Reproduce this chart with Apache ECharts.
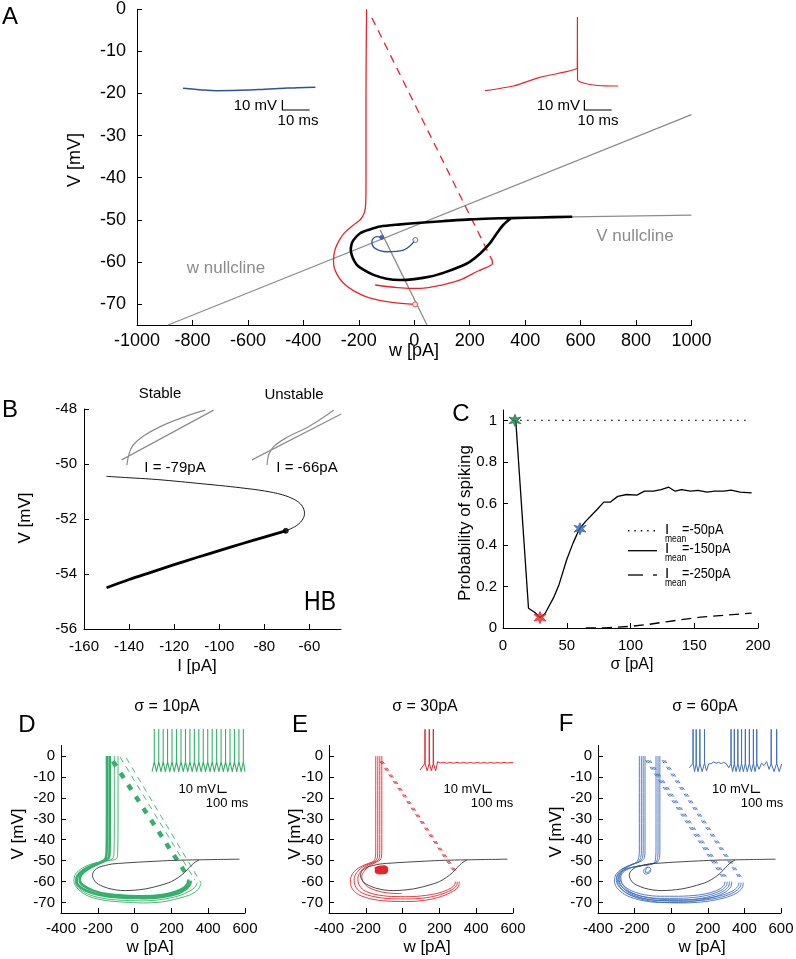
<!DOCTYPE html>
<html><head><meta charset="utf-8">
<script src="https://cdn.jsdelivr.net/npm/echarts@6/dist/echarts.min.js"></script>
<style>html,body{margin:0;padding:0;background:#fff}#c{width:796px;height:959px}</style>
</head><body><div id="c"></div>
<script>
const FONTF = '"Liberation Sans", Arial, Helvetica, sans-serif';

// ================= Panel A (phase plane, w [pA] vs V [mV]) =================
const aYTicks = [-70,-60,-50,-40,-30,-20,-10,0];
const aBlackCycle = [[350,-49.6],[320,-51.3],[298,-53.2],[270,-55.8],[238,-58],[200,-60],[166,-61.1],[110,-62.5],[58,-63.5],[0,-64.1],[-51,-64.3],[-100,-64],[-147,-63.1],[-185,-61.8],[-207,-60.7],[-222,-59],[-229,-57.2],[-226,-55.8],[-219,-54.8],[-195,-53.2],[-160,-52.3],[-123,-51.6],[-50,-51.1],[22,-50.7],[100,-50.35],[202,-49.9],[280,-49.7],[350,-49.6],[450,-49.45],[570,-49.3]];
const aVNullcline = [[350,-49.6],[570,-49.3],[1000,-48.9]];
const aWNullcline = [[-888,-75],[1000,-25]];
const aSeparatrix = [[-123,-52.4],[46,-75]];
const aRedPath = [[3,-70.1],[-80,-69.6],[-159,-68.6],[-215,-67],[-255,-65.1],[-280,-62.8],[-291,-60.3],[-290,-58.5],[-283,-56.6],[-268,-54.6],[-250,-53],[-220,-51.3],[-195,-50],[-180,-48.3],[-175,-46],[-174,-40],[-174,-20],[-172,0]];
const aRedReset = [[-153,-2],[280,-59.5]];
const aRedAfter = [[280,-59.3],[282,-60.4],[240,-61.9],[226,-62.3],[166,-64.3],[100,-65.5],[22,-66.3],[-60,-66.1],[-141,-65.5]];
const aRedStart = [[3,-70.1]];
const aBluePath = [[4,-54.8],[-39,-57.2],[-99,-57.6],[-141,-56.8],[-153,-55.2],[-135,-54],[-117,-54.2]];
const aBlueStart = [[4,-54.8]];
const aBlueEnd = [[-117,-54.2]];
// A insets (time [ms], V [mV])
const aBlueInsetT = [0, 6, 12.4, 18, 24.7, 30, 36.9, 42, 48.5];
const aBlueInsetV = [-71, -72.4, -73.4, -73.3, -72.7, -71.9, -71, -70.4, -70];
const aRedInsetT = [0, 10.4, 20.1, 29.9, 33.0, 33.8, 33.85, 33.9, 36.5, 39.7, 44, 48.8];
const aRedInsetV = [-73.4, -68.7, -60, -54.4, -52, -50.7, 0, -62.7, -66, -67.7, -68.5, -68.7];
const aScaleBar = [[36.4,-82.7],[36.4,-92.7],[46.4,-92.7]];

// ================= Panel B (bifurcation) =================
const bXTicks = [-160,-140,-120,-100,-80,-60];
const bUpperI = [-150,-140,-130,-120,-110,-100,-90,-80,-72,-67,-64,-62.5,-62.2,-62.6,-64,-66.5,-70.5];
const bUpperV = [-50.45,-50.5,-50.55,-50.62,-50.7,-50.78,-50.87,-50.98,-51.12,-51.28,-51.45,-51.65,-51.8,-51.95,-52.12,-52.28,-52.43];
const bLowerI = [-70.5,-80,-90,-100,-110,-120,-130,-140,-150];
const bLowerV = [-52.43,-52.66,-52.9,-53.15,-53.4,-53.66,-53.93,-54.2,-54.5];
const bHopf = [[-70.5,-52.43]];
const bStableLine = [[-143.3,-49.85],[-102.5,-48.04]];
const bStableCurve = [[-141,-50.04],[-139.9,-49.6],[-138.1,-49.3],[-133.6,-48.98],[-126.2,-48.64],[-117.3,-48.34],[-110,-48.13],[-106.2,-48.04]];
const bUnstableLine = [[-85.5,-49.85],[-45.9,-48.18]];
const bUnstableCurve = [[-78.8,-50.04],[-78.1,-49.67],[-75.9,-49.37],[-69.9,-49.03],[-61,-48.67],[-54.4,-48.34],[-49.2,-48.04]];

// ================= Panel C (probability of spiking) =================
const cYTicks = [0,0.2,0.4,0.6,0.8,1];
const cDotSigma = [8,192];
const cDotProb = [1,1];
const cSigma = [10,20,25,29,33,40,44,50,55,60,65,70,74,79,84,90,97,105,111,118,124,130,135,140,147,153,160,166,173,179,186,195];
const cProb = [1.0,0.095,0.075,0.05,0.07,0.15,0.21,0.33,0.41,0.478,0.515,0.547,0.572,0.606,0.606,0.634,0.643,0.64,0.659,0.659,0.667,0.678,0.659,0.667,0.659,0.663,0.654,0.659,0.659,0.664,0.654,0.651];
const cDashSigma = [65,80,100,115,128,140,155,170,185,195];
const cDashProb = [0,0.001,0.008,0.018,0.03,0.04,0.052,0.06,0.067,0.072];
const cStarGreen = [[9.4,1.0]];
const cStarRed = [[29,0.05]];
const cStarBlue = [[60.4,0.478]];

// ================= Panels D, E, F (noisy trajectories) =================
const dYTicks = [-70,-60,-50,-40,-30,-20,-10,0];
const dTrajThick = [
  [[305,-59.5],[300,-61.5],[280,-63.5],[230,-65.8],[150,-67.3],[50,-67.9],[-50,-67.7],[-150,-67],[-230,-65.5],[-290,-63],[-315,-60],[-310,-57.5],[-285,-55],[-235,-52.5],[-180,-50.6],[-158,-49],[-152,-46],[-150,-30],[-150,0]],
  [[292,-59],[288,-61],[268,-63],[220,-65],[150,-66.4],[50,-67],[-50,-66.8],[-150,-66],[-225,-64.3],[-280,-61.8],[-298,-59.3],[-292,-57],[-265,-54.7],[-220,-52.3],[-170,-50.4],[-142,-48.8],[-136,-46],[-135,-30],[-135,0]]
];
const dTrajThin = [
  [[340,-60.5],[330,-62.5],[300,-64.5],[240,-66.8],[150,-68.5],[50,-69.2],[-50,-69],[-150,-68.3],[-240,-66.5],[-300,-63.5],[-322,-60.2],[-315,-57],[-280,-54.2],[-220,-51.6],[-150,-50],[-118,-48.8],[-112,-46],[-110,-30],[-110,0]],
  [[360,-61],[348,-63.5],[310,-66],[240,-68],[150,-69.7],[50,-70.2],[-60,-69.8],[-160,-69],[-250,-67],[-305,-63.8],[-330,-60],[-322,-56.5],[-285,-53.6],[-220,-51.2],[-140,-50],[-98,-49],[-92,-46],[-90,-30],[-90,0]]
];
const dResetThick = [[-118,-2.5],[285,-57]];
const dResetThin = [[[-79,-0.5],[328,-59.3]],[[-45,-1],[362,-60.8]]];
const dSpikeT = [51,104,157,209,262,315,369,422,475,528,581,634,687,740,793,846,899,952,1005,1058,1111];
const dTroughT = [25,78,131,183,236,289,342,396,449,502,555,608,661,714,767,820,873,926,979,1032,1085,1130];
const dLevels = {pre:-42, peak:0, trough:-55};

const eTraj = [
  [[308,-60],[305,-62],[285,-64],[230,-66.5],[150,-68.5],[40,-69.5],[-60,-69.4],[-160,-68.5],[-240,-66.2],[-278,-62.8],[-283,-59],[-270,-56],[-240,-53.5],[-195,-51.6],[-160,-50.4],[-148,-48.5],[-146,-45],[-146,-30],[-146,0]],
  [[297,-60],[294,-61.8],[275,-63.5],[225,-65.6],[150,-67.4],[40,-68.3],[-60,-68.2],[-150,-67.3],[-225,-65.2],[-258,-62],[-263,-58.6],[-250,-55.8],[-222,-53.3],[-180,-51.4],[-148,-50.1],[-137,-48.5],[-135,-45],[-135,-30],[-135,0]],
  [[287,-60],[283,-61.5],[265,-63],[220,-64.8],[150,-66.3],[40,-67.2],[-60,-67.1],[-145,-66.2],[-210,-64.2],[-238,-61.3],[-243,-58.2],[-230,-55.5],[-205,-53.1],[-165,-51.2],[-135,-49.9],[-126,-48.5],[-124,-45],[-124,-30],[-124,0]],
  [[-5,-65.7],[-60,-65.6],[-130,-64.6],[-190,-62.5],[-218,-59.5],[-222,-57.5],[-210,-55.2],[-188,-53],[-150,-51],[-122,-49.7],[-115,-48.3],[-113,-45],[-113,-30],[-113,0]]
];
const eReset = [[[-123,-2.5],[288,-56.5]],[[-116,-2.5],[295,-56.5]],[[-109,-2.5],[302,-56.5]]];
const eBlob = [[-150,-54],[-130,-53],[-100,-52.8],[-85,-54],[-95,-55.8],[-125,-56],[-145,-55],[-135,-53.6],[-105,-53.5],[-92,-55],[-115,-55.5],[-140,-54.6],[-120,-54],[-100,-54.4],[-128,-55],[-110,-53.8]];
const eTraceT = [60,119,119,119,145,170,170,170,195,218,218,218,246,270,300,340,380,420,460,500,540,580,620,660,700,740,780,820,860,900,940,980,1020,1060,1100,1140,1170];
const eTraceV = [-52.9,-44,0,-44,-53.8,-44,0,-44,-53.8,-44,0,-44,-53.8,-42,-43.8,-42.9,-44,-43,-44.1,-43,-44,-43.1,-44,-43,-44.2,-43,-44,-43.2,-44,-43,-44,-43.1,-44,-43,-43.9,-43.1,-43.5];

const fTraj = [
  [[330,-60],[326,-62.5],[300,-64.8],[240,-67.2],[150,-69],[40,-70],[-60,-70],[-160,-69],[-240,-66.8],[-292,-63.5],[-310,-60],[-303,-56.8],[-270,-54],[-225,-52.2],[-190,-50.8],[-177,-48.5],[-174,-45],[-174,0]],
  [[318,-60],[314,-62.2],[290,-64.3],[235,-66.5],[150,-68.2],[40,-69],[-60,-69],[-155,-68.1],[-232,-66],[-282,-62.8],[-300,-59.5],[-293,-56.5],[-262,-53.8],[-220,-52],[-182,-50.6],[-166,-48.5],[-163,-45],[-163,0]],
  [[306,-60],[302,-61.9],[280,-63.8],[228,-65.8],[150,-67.3],[40,-68],[-60,-68],[-150,-67.2],[-224,-65.2],[-273,-62.2],[-290,-59],[-283,-56.2],[-253,-53.6],[-213,-51.8],[-172,-50.4],[-156,-48.5],[-153,-45],[-153,0]],
  [[294,-60],[290,-61.6],[270,-63.3],[222,-65.1],[150,-66.4],[40,-67],[-60,-67],[-145,-66.3],[-216,-64.4],[-263,-61.6],[-280,-58.5],[-273,-55.8],[-244,-53.4],[-205,-51.6],[-162,-50.2],[-146,-48.5],[-143,-45],[-143,0]],
  [[394,-60.5],[388,-63],[355,-65.6],[290,-67.8],[190,-69.5],[70,-70.2],[-50,-69.9],[-160,-68.5],[-245,-65.5],[-288,-61.5],[-296,-58],[-275,-55.3],[-230,-53.5],[-170,-52.5],[-120,-52],[-92,-51],[-85,-48.5],[-83,-45],[-83,0]],
  [[382,-60.5],[376,-62.6],[345,-65],[282,-67.2],[185,-68.8],[70,-69.4],[-50,-69.2],[-155,-67.9],[-238,-65],[-278,-61.2],[-285,-57.8],[-265,-55.2],[-222,-53.4],[-165,-52.4],[-115,-51.8],[-82,-50.6],[-74,-48.5],[-72,-45],[-72,0]],
  [[370,-60.5],[364,-62.3],[335,-64.5],[275,-66.6],[180,-68.1],[70,-68.7],[-50,-68.5],[-150,-67.3],[-230,-64.6],[-268,-61],[-275,-57.6],[-255,-55],[-215,-53.3],[-160,-52.3],[-110,-51.6],[-72,-50.4],[-64,-48.5],[-62,-45],[-62,0]]
];
const fLoop = [[-125,-53],[-140,-53.5],[-150,-55],[-142,-56.4],[-122,-56],[-112,-54.5],[-120,-53.2],[-138,-54],[-140,-55.6],[-126,-55.6],[-118,-54.6]];
const fReset = [[[-140,-2],[277,-57.7]],[[-132,-2],[285,-57.7]],[[-124,-2],[293,-57.7]],[[-116,-2],[301,-57.7]],
                [[-50,-2],[378,-59.3]],[[-42,-2],[386,-59.3]],[[-34,-2],[394,-59.3]]];
const fTrace = [[70,-50],[115,-44],[115,0],[115,-44],[133,-55],[152,-44],[152,0],[152,-44],[174,-55],[196,-44],[196,0],[196,-44],[223,-55],[251,-44],[251,0],[251,-44],[275,-54],[300,-45],[330,-44.5],[360,-42.5],[390,-44],[420,-43],[450,-44.5],[480,-43],[510,-44.5],[540,-50],[567,-44],[567,0],[567,-44],[586,-55],[606,-44],[606,0],[606,-44],[627,-55],[648,-44],[648,0],[648,-44],[670,-55],[692,-44],[692,0],[692,-44],[714,-55],[737,-44],[737,0],[737,-44],[760,-55],[785,-44],[785,0],[785,-44],[809,-55],[833,-44],[833,0],[833,-44],[853,-55],[873,-44],[873,0],[873,-44],[900,-52],[930,-44],[960,-47],[990,-42],[1020,-52],[1045,-44],[1045,0],[1045,-44],[1078,-55],[1110,-44],[1110,0],[1110,-44],[1140,-55],[1170,-45]];
const insetScaleBar = [[813,-72],[813,-82],[913,-82]];

// ================= colours =================
const RED = '#e4262c', BLUE_A = '#3050a0', GREEN = '#35b06a', BLUE_F = '#3f6fc0', GRAY = '#8c8c8c';

// ================= helpers =================
const zip = (a, b) => a.map((v, i) => [v, b[i]]);
function train(spk, tr, lv) {
  const out = [[tr[0], lv.trough]];
  spk.forEach((t, i) => {
    out.push([t, lv.pre], [t, lv.peak], [t, lv.pre]);
    if (tr[i + 1] !== undefined) out.push([tr[i + 1], lv.trough]);
  });
  return out;
}
function L(gi, data, color, width, o) {
  o = o || {};
  const ls = {color: color, width: width, join: 'round', cap: 'butt'};
  if (o.dash) ls.type = o.dash;
  return {type: 'line', xAxisIndex: gi, yAxisIndex: gi, data: data, symbol: 'none', showSymbol: false,
    silent: true, animation: false, clip: false, smooth: o.smooth || false, lineStyle: ls, z: o.z || 2};
}
function S(gi, data, symbol, size, fill, stroke, z) {
  return {type: 'scatter', xAxisIndex: gi, yAxisIndex: gi, data: data, symbol: symbol, symbolSize: size,
    silent: true, animation: false, z: z || 5, itemStyle: {color: fill, borderColor: stroke, borderWidth: 1}};
}
const fmt = v => String(+(+v).toFixed(4));
function axis(gi, min, max, o) {
  const a = {type: 'value', gridIndex: gi, min: min, max: max,
    axisLine: {show: true, onZero: false, lineStyle: {color: '#000', width: 1}},
    axisTick: {show: true, inside: true, length: 5, lineStyle: {color: '#000', width: 1}},
    axisLabel: {show: true, color: '#000', fontFamily: FONTF, fontSize: o.fs, margin: o.margin, formatter: fmt,
      showMinLabel: true, showMaxLabel: true},
    splitLine: {show: false}};
  if (o.interval) a.interval = o.interval;
  if (o.ticks) { a.axisTick.customValues = o.ticks; a.axisLabel.customValues = o.ticks; }
  return a;
}
const hidden = (gi, min, max) => ({type: 'value', gridIndex: gi, min: min, max: max, show: false, splitLine: {show: false}});

function T(text, x, y, size, o) {
  o = o || {};
  return {type: 'text', x: x, y: y, rotation: o.rot || 0, scaleX: o.sx || 1, silent: true, z: 100,
    style: {text: text, font: size + 'px ' + FONTF, fill: o.color || '#000',
      textAlign: o.align || 'center', textVerticalAlign: 'middle', align: o.align || 'center', verticalAlign: 'middle'}};
}
function G(x1, y1, x2, y2, w, dash) {
  return {type: 'line', silent: true, z: 100, shape: {x1: x1, y1: y1, x2: x2, y2: y2},
    style: {stroke: '#000', lineWidth: w, lineDash: dash || null}};
}

// ================= grids & axes =================
const grids = [
  {left: 137, top: 9.3, width: 554.5, height: 315.7},
  {left: 84, top: 409, width: 257, height: 220},
  {left: 503, top: 410, width: 255, height: 218},
  {left: 61, top: 745.5, width: 184, height: 167.5},
  {left: 329, top: 745.5, width: 184, height: 167.5},
  {left: 598, top: 745.5, width: 183, height: 167.5},
  {left: 183, top: 17.3, width: 136.5, height: 100},
  {left: 485, top: 17.3, width: 136.5, height: 100},
  {left: 150, top: 729.3, width: 100, height: 70},
  {left: 415, top: 729.3, width: 100, height: 70},
  {left: 683.4, top: 729.3, width: 100, height: 70}
].map(g => Object.assign({containLabel: false, outerBoundsMode: 'none'}, g));

const xAxis = [
  axis(0, -1000, 1000, {fs: 18, margin: 7, interval: 200}),
  axis(1, -160, -46, {fs: 15, margin: 10, ticks: bXTicks}),
  axis(2, 0, 200, {fs: 15, margin: 10, interval: 50}),
  axis(3, -400, 600, {fs: 15, margin: 8, interval: 200}),
  axis(4, -400, 600, {fs: 15, margin: 8, interval: 200}),
  axis(5, -400, 600, {fs: 15, margin: 8, interval: 200}),
  hidden(6, 0, 50), hidden(7, 0, 50),
  hidden(8, 0, 1190), hidden(9, 0, 1190), hidden(10, 0, 1190)
];
const yAxis = [
  axis(0, -75, 0, {fs: 18, margin: 11, ticks: aYTicks}),
  axis(1, -56, -48, {fs: 15, margin: 7, interval: 2}),
  axis(2, 0, 1.05, {fs: 15, margin: 6, ticks: cYTicks}),
  axis(3, -75, 5, {fs: 15, margin: 6, ticks: dYTicks}),
  axis(4, -75, 5, {fs: 15, margin: 6, ticks: dYTicks}),
  axis(5, -75, 5, {fs: 15, margin: 6, ticks: dYTicks}),
  hidden(6, -100, 0), hidden(7, -100, 0),
  hidden(8, -90.9, 0), hidden(9, -90.9, 0), hidden(10, -90.9, 0)
];

// ================= series =================
const series = [];
// A
series.push(L(0, aWNullcline, GRAY, 1.3, {z: 1}));
series.push(L(0, aVNullcline, GRAY, 1.3, {z: 1}));
series.push(L(0, aSeparatrix, GRAY, 1.3, {z: 1}));
series.push(L(0, aRedPath, RED, 1.3, {smooth: 0.3, z: 2}));
series.push(L(0, aRedReset, RED, 1.3, {dash: [8, 6], z: 2}));
series.push(L(0, aRedAfter, RED, 1.3, {smooth: 0.3, z: 2}));
series.push(L(0, aBluePath, BLUE_A, 1.3, {smooth: 0.4, z: 3}));
series.push(L(0, aBlackCycle, '#000', 2.6, {smooth: 0.3, z: 4}));
series.push(S(0, aRedStart, 'circle', 5, '#fff', RED));
series.push(S(0, aBlueStart, 'circle', 5, '#fff', BLUE_A));
series.push(S(0, aBlueEnd, 'circle', 4, BLUE_A, BLUE_A));
series.push(L(6, zip(aBlueInsetT, aBlueInsetV), BLUE_A, 1.5, {smooth: 0.4}));
series.push(L(6, aScaleBar, '#000', 1.2));
series.push(L(7, zip(aRedInsetT, aRedInsetV), RED, 1.2, {smooth: 0.2}));
series.push(L(7, aScaleBar, '#000', 1.2));
// B
series.push(L(1, zip(bUpperI, bUpperV), '#000', 0.9, {smooth: 0.4}));
series.push(L(1, zip(bLowerI, bLowerV), '#000', 2.8, {smooth: 0.3}));
series.push(S(1, bHopf, 'circle', 5, '#000', '#000'));
series.push(L(1, bStableLine, GRAY, 1.2));
series.push(L(1, bStableCurve, GRAY, 1.2, {smooth: 0.4}));
series.push(L(1, bUnstableLine, GRAY, 1.2));
series.push(L(1, bUnstableCurve, GRAY, 1.2, {smooth: 0.4}));
// C
series.push(L(2, zip(cDotSigma, cDotProb), '#000', 1.4, {dash: [1.4, 5.6]}));
series.push(L(2, zip(cSigma, cProb), '#000', 1.3));
series.push(L(2, zip(cDashSigma, cDashProb), '#000', 1.3, {dash: [10, 6]}));
const STAR = 'path://M0,-10L2.6,-3.8L9.5,-5.5L4.4,0L9.5,5.5L2.6,3.8L0,10L-2.6,3.8L-9.5,5.5L-4.4,0L-9.5,-5.5L-2.6,-3.8Z';
series.push(S(2, cStarGreen, STAR, 12, '#178048', '#178048', 6));
series.push(S(2, cStarRed, STAR, 12, '#e8262d', '#e8262d', 6));
series.push(S(2, cStarBlue, STAR, 12, '#2f63b5', '#2f63b5', 6));
// D
dTrajThick.forEach(t => series.push(L(3, t, GREEN, 2.6, {smooth: 0.3})));
dTrajThin.forEach(t => series.push(L(3, t, GREEN, 0.9, {smooth: 0.3})));
series.push(L(3, dResetThick, GREEN, 4.5, {dash: [6, 8]}));
dResetThin.forEach(t => series.push(L(3, t, GREEN, 0.9, {dash: [6, 5]})));
series.push(L(3, aBlackCycle, '#333', 0.9, {smooth: 0.3, z: 4}));
series.push(L(8, train(dSpikeT, dTroughT, dLevels), GREEN, 1.1));
series.push(L(8, insetScaleBar, '#000', 1.2));
// E
eTraj.forEach(t => series.push(L(4, t, RED, 0.9, {smooth: 0.3})));
eReset.forEach(t => series.push(L(4, t, RED, 0.9, {dash: [3.5, 4.5]})));
series.push(L(4, eBlob, RED, 2.6, {smooth: 0.4}));
series.push(L(4, aBlackCycle, '#333', 0.9, {smooth: 0.3, z: 4}));
series.push(L(9, zip(eTraceT, eTraceV), RED, 1.0));
series.push(L(9, insetScaleBar, '#000', 1.2));
// F
fTraj.forEach(t => series.push(L(5, t, BLUE_F, 0.9, {smooth: 0.3})));
fReset.forEach(t => series.push(L(5, t, BLUE_F, 0.9, {dash: [3.5, 4.5]})));
series.push(L(5, fLoop, BLUE_F, 0.9, {smooth: 0.5}));
series.push(L(5, aBlackCycle, '#333', 0.9, {smooth: 0.3, z: 4}));
series.push(L(10, fTrace, BLUE_F, 1.0));
series.push(L(10, insetScaleBar, '#000', 1.2));

// ================= text & legend graphics =================
const R90 = Math.PI / 2;
const graphic = [
  T('A', 10, 17, 24), T('B', 10, 410, 24), T('C', 461, 414, 24),
  T('D', 27, 725, 24), T('E', 300, 725, 24), T('F', 566, 724, 24),
  // A
  T('V [mV]', 75, 160, 18, {rot: R90}), T('w [pA]', 414, 351, 18),
  T('w nullcline', 226, 268, 17, {color: GRAY}), T('V nullcline', 635, 236, 17, {color: GRAY}),
  T('10 mV', 277, 106, 15, {align: 'right'}), T('10 ms', 298, 121, 15),
  T('10 mV', 580, 106, 15, {align: 'right'}), T('10 ms', 598, 121, 15),
  // B
  T('V [mV]', 25, 518, 17, {rot: R90}), T('I [pA]', 197, 666, 17),
  T('Stable', 160, 394, 15), T('Unstable', 294, 395, 15),
  T('I = -79pA', 175, 468, 15), T('I = -66pA', 307, 468, 15),
  T('HB', 320, 603, 27, {sx: 0.85}),
  // C
  T('Probability of spiking', 465, 523, 17, {rot: R90}), T('σ [pA]', 632, 665, 16),
  G(628, 530.7, 657, 530.7, 1.4, [1.4, 5]),
  G(628, 550.7, 657, 550.7, 1.3),
  G(628, 575, 643, 575, 1.3), G(653, 575, 657, 575, 1.3),
  T('I', 665, 529.5, 15, {align: 'left'}), T('mean', 665, 539, 10, {align: 'left', sx: 0.85}), T('=-50pA', 682, 529.5, 15, {align: 'left', sx: 0.85}),
  T('I', 665, 549, 15, {align: 'left'}), T('mean', 665, 558.5, 10, {align: 'left', sx: 0.85}), T('=-150pA', 682, 549, 15, {align: 'left', sx: 0.85}),
  T('I', 665, 573.5, 15, {align: 'left'}), T('mean', 665, 583, 10, {align: 'left', sx: 0.85}), T('=-250pA', 682, 573.5, 15, {align: 'left', sx: 0.85}),
  // D E F
  T('σ = 10pA', 167, 707, 16), T('σ = 30pA', 425, 707, 16), T('σ = 60pA', 705, 707, 16),
  T('V [mV]', 18, 834, 17, {rot: R90}), T('V [mV]', 295, 834, 17, {rot: R90}), T('V [mV]', 556, 832, 17, {rot: R90}),
  T('w [pA]', 150, 947, 17), T('w [pA]', 427, 947, 17), T('w [pA]', 702, 947, 17),
  T('10 mV', 216, 789, 13, {align: 'right'}), T('100 ms', 227, 803, 13),
  T('10 mV', 481, 789, 13, {align: 'right'}), T('100 ms', 492, 803, 13),
  T('10 mV', 749.5, 789, 13, {align: 'right'}), T('100 ms', 762, 803, 13)
];

const chart = echarts.init(document.getElementById('c'), null, {renderer: 'canvas'});
chart.setOption({
  animation: false,
  backgroundColor: '#fff',
  textStyle: {fontFamily: FONTF},
  grid: grids, xAxis: xAxis, yAxis: yAxis, series: series, graphic: graphic
});
</script></body></html>
